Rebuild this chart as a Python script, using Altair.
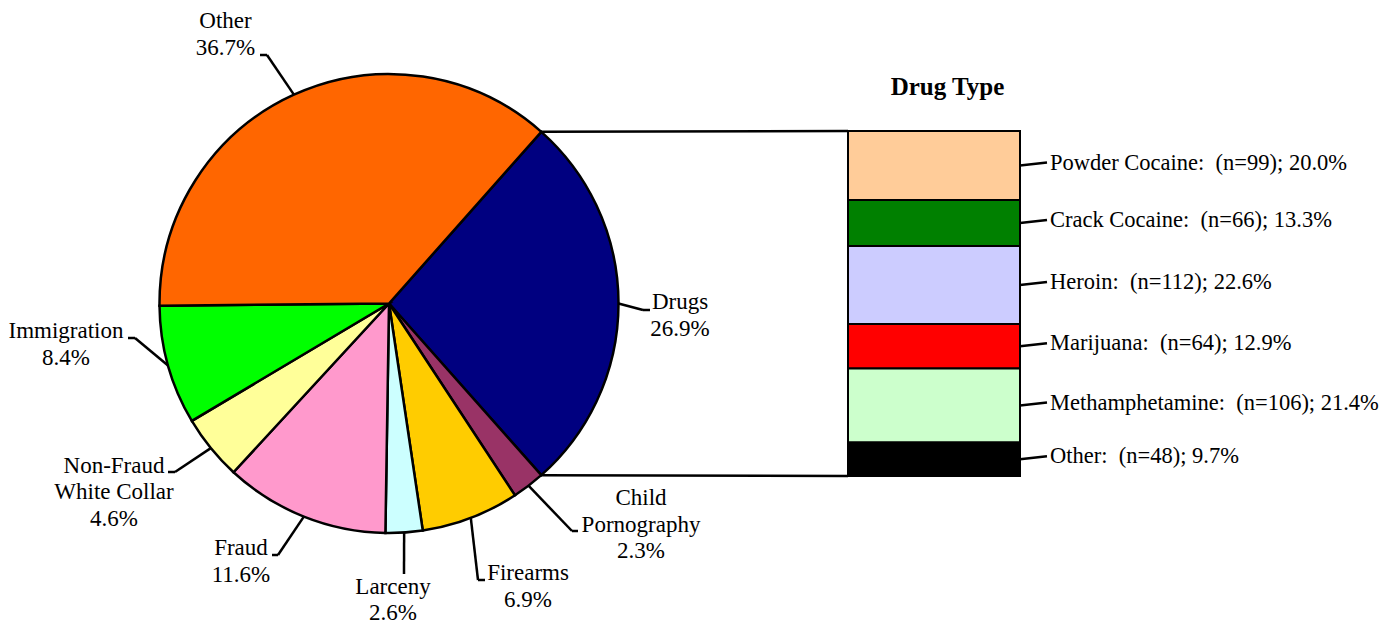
import math
import altair as alt
import pandas as pd

# ---------------- data ----------------
offense = ["Drugs", "Child Pornography", "Firearms", "Larceny", "Fraud",
           "Non-Fraud White Collar", "Immigration", "Other"]
offense_label = ["Drugs", "Child\nPornography", "Firearms", "Larceny", "Fraud",
                 "Non-Fraud\nWhite Collar", "Immigration", "Other"]
offense_pct = [26.9, 2.3, 6.9, 2.6, 11.6, 4.6, 8.4, 36.7]
offense_colors = ["#000080", "#993366", "#FFCC00", "#CCFFFF", "#FF99CC",
                  "#FFFF99", "#00FF00", "#FF6600"]

drug = ["Powder Cocaine", "Crack Cocaine", "Heroin", "Marijuana",
        "Methamphetamine", "Other"]
drug_n = [99, 66, 112, 64, 106, 48]
drug_pct = [20.0, 13.3, 22.6, 12.9, 21.4, 9.7]
drug_colors = ["#FFCC99", "#008000", "#CCCCFF", "#FF0000", "#CCFFCC", "#000000"]

title_text = "Drug Type"

# ---------------- layout (page pixel coordinates) ----------------
W, H = 1376, 618
OFF = 8
FONT = "Liberation Serif"
FS = 23
FS_BAR = 22.5
PIE_CX, PIE_CY, PIE_R = 389, 303.5, 229.5
BAR_X0, BAR_X1, BAR_TOP, BAR_BOTTOM = 848, 1020, 131, 476
BAR_LEADER_X1, BAR_TEXT_X = 1047, 1050

# elbow, end of leader, text anchor (first baseline)
pie_layout = {
    "Drugs": ((643, 310), (650, 310), (680, 309)),
    "Child Pornography": ((572, 531), (578, 531), (641, 505)),
    "Firearms": ((478, 580), (485, 580), (528, 580)),
    "Larceny": ((404, 574), (404, 574), (393, 593.5)),
    "Fraud": ((278, 555), (272, 555), (241, 555)),
    "Non-Fraud White Collar": ((175, 472), (168, 472), (114, 472.5)),
    "Immigration": ((135, 338), (128, 338), (66, 338)),
    "Other": ((267, 55), (260, 55), (225.5, 28)),
}

XS = alt.Scale(domain=[OFF, OFF + W], range=[0, W], nice=False, zero=False)
YS = alt.Scale(domain=[OFF, OFF + H], range=[0, H], nice=False, zero=False)

total = sum(offense_pct)
a0 = math.pi / 2 - (offense_pct[0] / total) * math.pi  # first slice centred at 3 o'clock

# ---------------- pie ----------------
pie_df = pd.DataFrame({"offense": offense, "pct": offense_pct,
                       "idx": list(range(len(offense))), "col": offense_colors})

arc = alt.Chart(pie_df).mark_arc(outerRadius=PIE_R, stroke="black", strokeWidth=2.5).encode(
    x=alt.XDatum(PIE_CX, type="quantitative", scale=XS, axis=None),
    y=alt.YDatum(PIE_CY, type="quantitative", scale=YS, axis=None),
    theta=alt.Theta("pct:Q", stack=True,
                    scale=alt.Scale(domain=[0, total], range=[a0, a0 + 2 * math.pi])),
    color=alt.Color("col:N", scale=None),
    order=alt.Order("idx:Q"),
)

# leader lines and labels derived from slice mid-angles
seg_rows, lab_rows = [], []
cum = 0.0
for name, lab, p in zip(offense, offense_label, offense_pct):
    mid = a0 + (cum + p / 2) / total * 2 * math.pi
    cum += p
    ex = PIE_CX + PIE_R * math.sin(mid)
    ey = PIE_CY - PIE_R * math.cos(mid)
    (bx, by), (tx, ty), (lx, ly) = pie_layout[name]
    seg_rows.append({"x": ex, "y": ey, "x2": bx, "y2": by})
    if (bx, by) != (tx, ty):
        seg_rows.append({"x": bx, "y": by, "x2": tx, "y2": ty})
    lab_rows.append({"x": lx, "y": ly, "text": f"{lab}\n{p:.1f}%"})

# connectors from Drugs slice edges to bar
a_end = a0 + offense_pct[0] / total * 2 * math.pi
for a, byy in ((a0, BAR_TOP), (a_end, BAR_BOTTOM)):
    seg_rows.append({"x": PIE_CX + PIE_R * math.sin(a), "y": PIE_CY - PIE_R * math.cos(a),
                     "x2": BAR_X0, "y2": byy})

seg_df = pd.DataFrame(seg_rows)
lab_df = pd.DataFrame(lab_rows)

leaders = alt.Chart(seg_df).mark_rule(color="black", strokeWidth=2.5).encode(
    x=alt.X("x:Q", scale=XS, axis=None), y=alt.Y("y:Q", scale=YS, axis=None),
    x2="x2:Q", y2="y2:Q",
)

pie_text = alt.Chart(lab_df).mark_text(
    align="center", baseline="alphabetic", lineBreak="\n", lineHeight=26.5,
    font=FONT, fontSize=FS, color="black",
).encode(
    x=alt.X("x:Q", scale=XS, axis=None), y=alt.Y("y:Q", scale=YS, axis=None),
    text="text:N",
)

# ---------------- bar of pie ----------------
dtotal = sum(drug_pct)
bar_df = pd.DataFrame({"drug": drug, "n": drug_n, "pct": drug_pct, "col": drug_colors})
bar_df["end"] = bar_df["pct"].cumsum()
bar_df["start"] = bar_df["end"] - bar_df["pct"]
bar_df["mid"] = (bar_df["start"] + bar_df["end"]) / 2
bar_df["lab"] = [f"{d}:\u00a0 (n={n}); {p:.1f}%" for d, n, p in zip(drug, drug_n, drug_pct)]
px_per_pct = (BAR_BOTTOM - BAR_TOP) / dtotal
bar_df["mid_up"] = bar_df["mid"] - 3 / px_per_pct

BS = alt.Scale(domain=[0, dtotal], range=[BAR_TOP - OFF, BAR_BOTTOM - OFF], nice=False, zero=False)

bar = alt.Chart(bar_df).mark_rect(stroke="black", strokeWidth=2).encode(
    x=alt.XDatum(BAR_X0, type="quantitative", scale=XS, axis=None),
    x2=alt.X2Datum(BAR_X1),
    y=alt.Y("start:Q", scale=BS, axis=None), y2="end:Q",
    color=alt.Color("col:N", scale=None),
)

bar_leaders = alt.Chart(bar_df).mark_rule(color="black", strokeWidth=2.5).encode(
    x=alt.XDatum(BAR_X1, type="quantitative", scale=XS, axis=None),
    x2=alt.X2Datum(BAR_LEADER_X1),
    y=alt.Y("mid:Q", scale=BS, axis=None), y2="mid_up:Q",
)

bar_text = alt.Chart(bar_df).mark_text(
    align="left", baseline="middle", dy=-3, font=FONT, fontSize=FS_BAR, color="black",
).encode(
    x=alt.XDatum(BAR_TEXT_X, type="quantitative", scale=XS, axis=None),
    y=alt.Y("mid:Q", scale=BS, axis=None),
    text="lab:N",
)

title = alt.Chart(pd.DataFrame({"t": [title_text]})).mark_text(
    align="center", baseline="alphabetic", font=FONT, fontSize=25, fontWeight="bold",
    color="black",
).encode(
    x=alt.XDatum(947.5, type="quantitative", scale=XS, axis=None),
    y=alt.YDatum(95, type="quantitative", scale=YS, axis=None),
    text="t:N",
)

chart = alt.layer(
    bar, arc, leaders, pie_text, bar_leaders, bar_text, title
).resolve_scale(y="independent").properties(
    width=W, height=H, padding=0, autosize="none", background="white"
).configure_view(stroke=None)

chart.save("out.html", embed_options={"renderer": "svg", "actions": False})
